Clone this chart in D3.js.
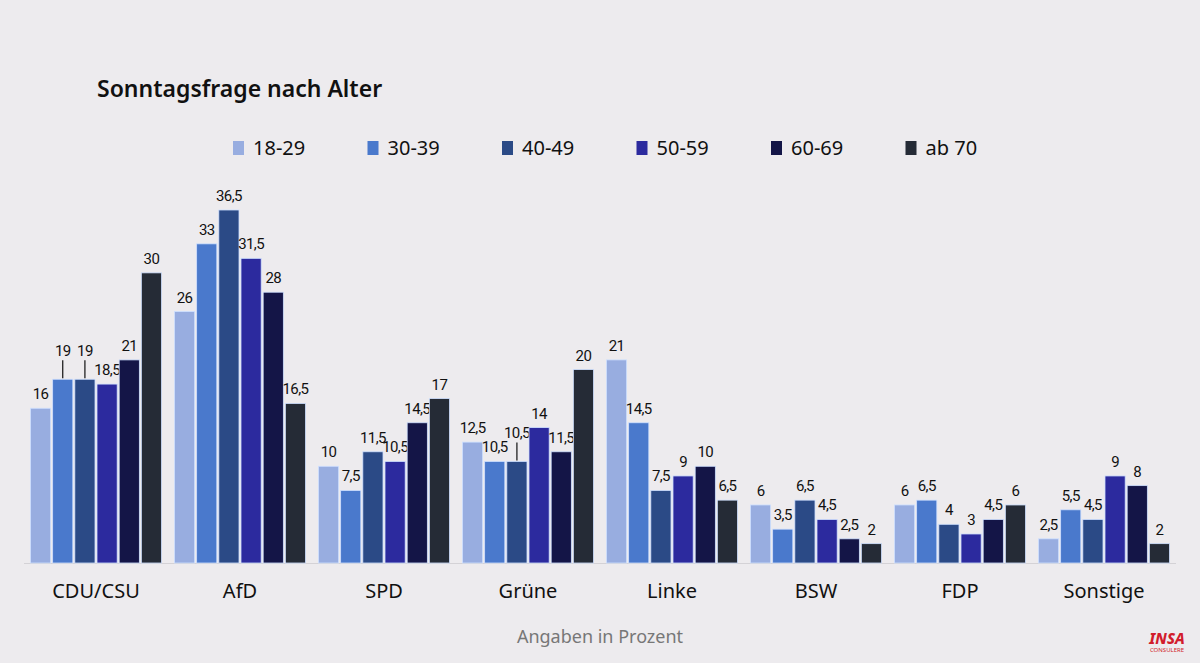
<!DOCTYPE html>
<html><head><meta charset="utf-8">
<script src="https://cdn.jsdelivr.net/npm/d3@7"></script>
<style>body{margin:0;background:#edebee;font-family:"Noto Sans",sans-serif;}</style>
</head><body><div id="chart"></div>
<script>
var parties = ["CDU/CSU", "AfD", "SPD", "Grüne", "Linke", "BSW", "FDP", "Sonstige"];
var ages = ["18-29", "30-39", "40-49", "50-59", "60-69", "ab 70"];
var colors = ["#98ade0", "#4a79cc", "#2b4a86", "#2c2a9e", "#141547", "#252b36"];
var values = [
    [16, 19, 19, 18.5, 21, 30],
    [26, 33, 36.5, 31.5, 28, 16.5],
    [10, 7.5, 11.5, 10.5, 14.5, 17],
    [12.5, 10.5, 10.5, 14, 11.5, 20],
    [21, 14.5, 7.5, 9, 10, 6.5],
    [6, 3.5, 6.5, 4.5, 2.5, 2],
    [6, 6.5, 4, 3, 4.5, 6],
    [2.5, 5.5, 4.5, 9, 8, 2]
];
// labels lifted with a leader line: [party, age]
var lifted = [[0, 1], [0, 2], [3, 2]];

var W = 1200, H = 663, base = 563;
var svg = d3.select("#chart").append("svg").attr("width", W).attr("height", H);
svg.append("rect").attr("width", W).attr("height", H).attr("fill", "#edebee");

var x0 = d3.scaleBand().domain(parties).range([24, 1176]).paddingInner(0.09).paddingOuter(0.045);
var x1 = d3.scaleBand().domain(ages).range([0, x0.bandwidth()]).paddingInner(0.09);
var y = d3.scaleLinear().domain([0, 36.5]).range([base, 210]);

svg.append("text").attr("x", 97).attr("y", 97).attr("font-size", 23).attr("font-weight", 600)
    .attr("fill", "#111").text("Sonntagsfrage nach Alter");

var leg = svg.selectAll(".leg").data(ages).enter().append("g")
    .attr("transform", function(d, i) { return "translate(" + (233 + i * 134.5) + ",141)"; });
leg.append("rect").attr("width", 11).attr("height", 14).attr("fill", function(d, i) { return colors[i]; });
leg.append("text").attr("x", 20).attr("y", 14).attr("font-size", 20).attr("fill", "#111").text(function(d) { return d; });

svg.append("line").attr("x1", 24).attr("x2", 1176).attr("y1", base + 0.5).attr("y2", base + 0.5)
    .attr("stroke", "#d4d2d6");

parties.forEach(function(p, pi) {
    var g = svg.append("g").attr("transform", "translate(" + x0(p) + ",0)");
    values[pi].forEach(function(v, ai) {
        var bx = x1(ages[ai]), bw = x1.bandwidth();
        g.append("rect").attr("x", bx).attr("y", y(v)).attr("width", bw).attr("height", base - y(v))
            .attr("fill", colors[ai]).attr("stroke", "#cfe0ff").attr("stroke-width", 0.8);
        var isLifted = lifted.some(function(l) { return l[0] === pi && l[1] === ai; });
        var ty = y(v) - 9 - (isLifted ? 14 : 0);
        if (isLifted) {
            g.append("line").attr("x1", bx + bw / 2).attr("x2", bx + bw / 2)
                .attr("y1", y(v) - 1).attr("y2", y(v) - 19).attr("stroke", "#111").attr("stroke-width", 1.2);
        }
        g.append("text").attr("x", bx + bw / 2).attr("y", ty).attr("text-anchor", "middle")
            .attr("font-family", "Roboto").attr("letter-spacing", -0.6)
            .attr("font-size", 15).attr("fill", "#111").text(String(v).replace(".", ","));
    });
    svg.append("text").attr("x", x0(p) + x0.bandwidth() / 2).attr("y", 598).attr("text-anchor", "middle")
        .attr("font-size", 20).attr("fill", "#111").text(p);
});

svg.append("text").attr("x", 600).attr("y", 643).attr("text-anchor", "middle").attr("font-size", 18)
    .attr("fill", "#777").text("Angaben in Prozent");
svg.append("text").attr("x", 1167).attr("y", 644).attr("text-anchor", "middle").attr("font-size", 15)
    .attr("font-weight", 800).attr("font-style", "italic").attr("fill", "#d21c2c").text("INSA");
svg.append("text").attr("x", 1167).attr("y", 652).attr("text-anchor", "middle").attr("font-size", 6)
    .attr("fill", "#d21c2c").text("CONSULERE");
</script></body></html>
